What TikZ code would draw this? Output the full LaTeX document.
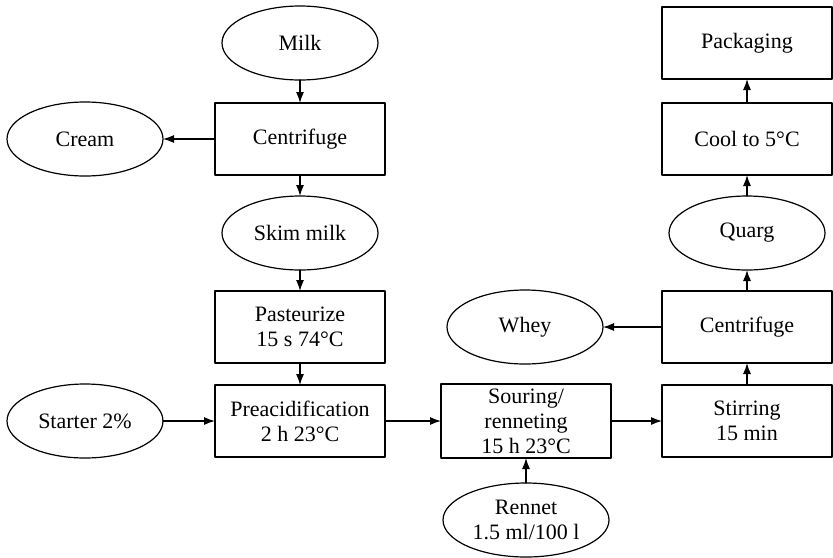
\documentclass[tikz,border=0pt]{standalone}
\usepackage{fontspec}
\setmainfont{Liberation Serif}
\usetikzlibrary{arrows.meta,positioning,shapes.geometric}

\begin{document}
\begin{tikzpicture}[x=0.5pt, y=-0.5pt, line cap=round, line join=round,
                    every node/.style={outer sep=0pt, font=\fontsize{11}{12.5}\selectfont}]

  \tikzset{
    stepbox/.style={rectangle, draw=black, line width=0.6pt, align=center,
                    minimum width=85pt, minimum height=36pt, inner sep=1pt},
    product/.style={ellipse, draw=black, line width=0.6pt, align=center,
                    minimum width=78pt, minimum height=37pt, inner sep=1pt},
    flow/.style={line width=0.6pt, draw=black, -{Latex[length=5.5pt,width=4pt]}}
  }

  \path[use as bounding box] (0,0) rectangle (833,557);

  % left column
  \node[product] (milk)   at (300,43)  {Milk};
  \node[stepbox] (cent1)  at (300,139) {Centrifuge};
  \node[product] (cream)  at (85,139)  {Cream};
  \node[product] (skim)   at (300,233) {Skim milk};
  \node[stepbox] (past)   at (300,327) {Pasteurize\\15 s 74°C};
  \node[product] (start)  at (85,421)  {Starter 2\%};
  \node[stepbox] (preac)  at (300,421) {Preacidification\\2 h 23°C};

  % middle column
  \node[stepbox, minimum height=37pt] (sour) at (526,421) {Souring/\\renneting\\15 h 23°C};
  \node[product, minimum width=83pt] (rennet) at (526,520) {Rennet\\1.5 ml/100 l};
  \node[product] (whey)   at (525,327) {Whey};

  % right column
  \node[stepbox] (stir)   at (747,421) {Stirring\\15 min};
  \node[stepbox] (cent2)  at (747,327) {Centrifuge};
  \node[product] (quarg)  at (747,233) {Quarg};
  \node[stepbox] (cool)   at (747,139) {Cool to 5°C};
  \node[stepbox] (pack)   at (747,43)  {Packaging};

  \foreach \a/\b in {milk/cent1,cent1/cream,cent1/skim,skim/past,past/preac,
                     start/preac,preac/sour,rennet/sour,sour/stir,
                     stir/cent2,cent2/whey,cent2/quarg,quarg/cool,cool/pack}
    \draw[flow] (\a) -- (\b);
\end{tikzpicture}
\end{document}
